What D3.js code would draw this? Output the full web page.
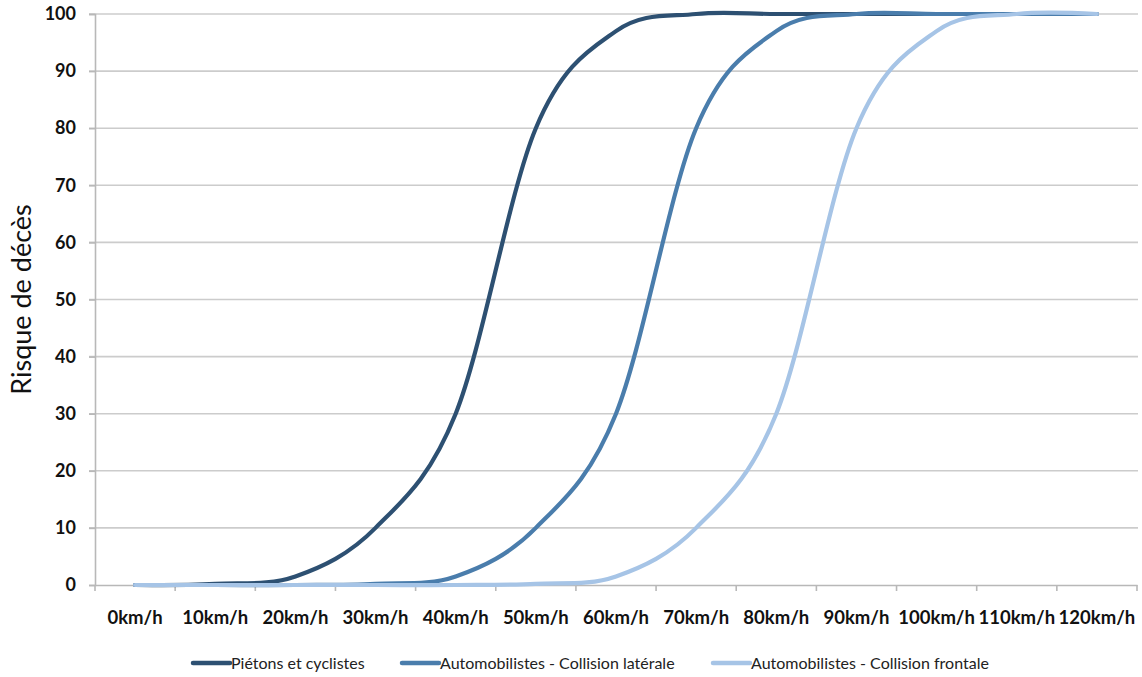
<!DOCTYPE html>
<html>
<head>
<meta charset="utf-8">
<script src="https://cdn.jsdelivr.net/npm/d3@7"></script>
<style>
  body { margin: 0; background: #fff; }
  text { font-family: Lato, "Open Sans", sans-serif; }
</style>
</head>
<body>
<script>
// categories (speed) and risk of death per series
var speeds = ["0km/h", "10km/h", "20km/h", "30km/h", "40km/h", "50km/h", "60km/h",
              "70km/h", "80km/h", "90km/h", "100km/h", "110km/h", "120km/h"];
var pietons   = [0, 0.2, 1.5, 10, 30, 80, 97, 100, 100, 100, 100, 100, 100];
var laterale  = [0, 0, 0, 0.2, 1.5, 10, 30, 80, 97, 100, 100, 100, 100];
var frontale  = [0, 0, 0, 0, 0, 0.2, 1.5, 10, 30, 80, 97, 100, 100];
var seriesNames = ["Piétons et cyclistes", "Automobilistes - Collision latérale", "Automobilistes - Collision frontale"];
var yTicks = [0, 10, 20, 30, 40, 50, 60, 70, 80, 90, 100];

var colors = ["#2d5072", "#4a7dac", "#a6c4e6"];

var width = 1142, height = 677;
var margins = { top: 14, bottom: 92, left: 95, right: 5 };

var svg = d3.select("body")
  .append("svg")
  .attr("width", width)
  .attr("height", height);

var x = d3.scaleBand()
  .domain(speeds)
  .range([margins.left, width - margins.right]);

var y = d3.scaleLinear()
  .domain([0, 100])
  .range([height - margins.bottom, margins.top]);

// horizontal gridlines
svg.append("g")
  .selectAll("line")
  .data(yTicks.filter(d => d > 0))
  .enter().append("line")
  .attr("x1", margins.left - 6)
  .attr("x2", width - 4)
  .attr("y1", d => y(d))
  .attr("y2", d => y(d))
  .attr("stroke", "#cccccc")
  .attr("stroke-width", 1.6);

// y axis
var yAxis = svg.append("g")
  .attr("transform", "translate(" + margins.left + ",0)")
  .call(d3.axisLeft(y).tickValues(yTicks).tickSize(6).tickPadding(13));
yAxis.select(".domain").attr("stroke", "#b8b8b8").attr("stroke-width", 1.6);
yAxis.selectAll(".tick line").attr("stroke", "#b8b8b8").attr("stroke-width", 1.6);
yAxis.selectAll("text")
  .attr("font-family", "Lato, sans-serif")
  .attr("font-size", 18)
  .attr("font-weight", "bold")
  .attr("fill", "#111");

// x axis (labels centred in bands, ticks at band edges)
var xAxis = svg.append("g")
  .attr("transform", "translate(0," + y(0) + ")")
  .call(d3.axisBottom(x).tickSize(0).tickPadding(26).tickSizeOuter(0));
xAxis.select(".domain").attr("stroke", "#b8b8b8").attr("stroke-width", 1.6);
xAxis.selectAll("text")
  .attr("font-family", "Lato, sans-serif")
  .attr("font-size", 18.5)
  .attr("font-weight", "bold")
  .attr("fill", "#111");

xAxis.selectAll(".edge")
  .data(speeds.concat(["end"]))
  .enter().append("line")
  .attr("class", "edge")
  .attr("x1", d => d === "end" ? x.range()[1] : x(d))
  .attr("x2", d => d === "end" ? x.range()[1] : x(d))
  .attr("y1", 0)
  .attr("y2", 6)
  .attr("stroke", "#b8b8b8")
  .attr("stroke-width", 1.6);

// y axis title
svg.append("text")
  .attr("transform", "translate(31," + ((y(0) + y(100)) / 2) + ") rotate(-90)")
  .attr("text-anchor", "middle")
  .attr("font-family", "Lato, sans-serif")
  .attr("font-size", 27)
  .attr("fill", "#111")
  .text("Risque de décès");

// lines
var line = d3.line()
  .x((d, i) => x(speeds[i]) + x.bandwidth() / 2)
  .y(d => y(d))
  .curve(d3.curveCardinal.tension(0));

[pietons, laterale, frontale].forEach(function (s, i) {
  svg.append("path")
    .datum(s)
    .attr("d", line)
    .attr("fill", "none")
    .attr("stroke", colors[i])
    .attr("stroke-width", 4.2)
    .attr("stroke-linecap", "round");
});

// legend
var legendX = [193, 402, 713];
var legend = svg.append("g").attr("transform", "translate(0,663)");
seriesNames.forEach(function (name, i) {
  legend.append("line")
    .attr("x1", legendX[i])
    .attr("x2", legendX[i] + 37)
    .attr("y1", 0)
    .attr("y2", 0)
    .attr("stroke", colors[i])
    .attr("stroke-width", 4.5)
    .attr("stroke-linecap", "round");
  legend.append("text")
    .attr("x", legendX[i] + 38)
    .attr("y", 6)
    .attr("font-family", "Lato, sans-serif")
    .attr("font-size", 16)
    .attr("fill", "#222")
    .text(name);
});
</script>
</body>
</html>
